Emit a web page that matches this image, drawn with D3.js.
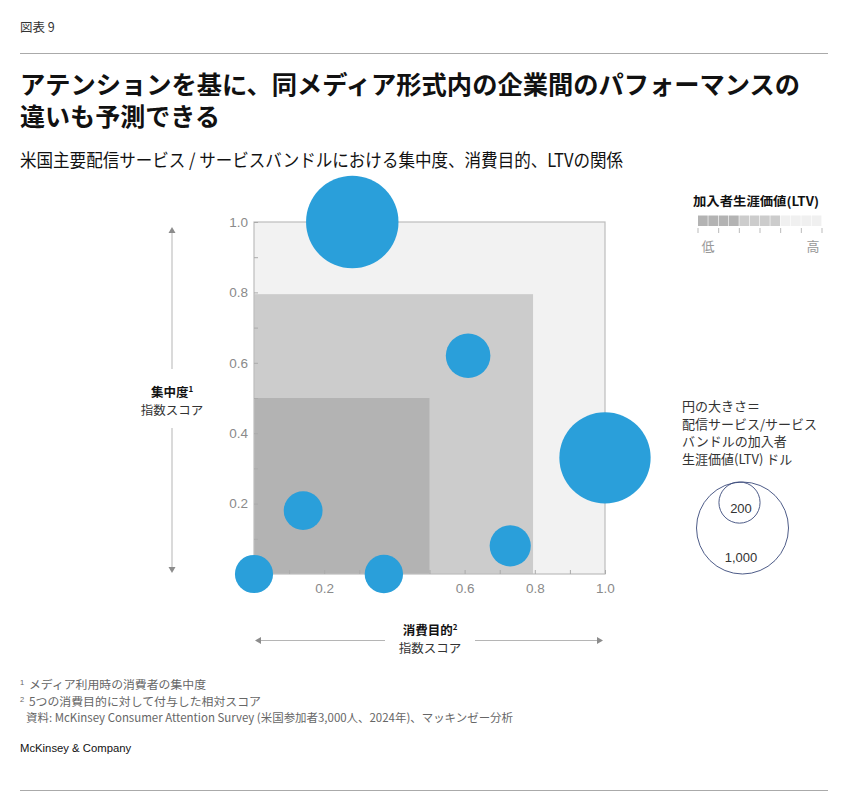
<!DOCTYPE html>
<html><head><meta charset="utf-8">
<script src="https://cdn.jsdelivr.net/npm/d3@7"></script>
<style>
body{margin:0;background:#fff;}
svg{display:block;font-family:"Liberation Sans","Noto Sans CJK JP",sans-serif;}
</style></head>
<body><svg id="c" width="843" height="808"></svg>
<script>
// ---- data ----
const purposeScore   = [0.28, 0.61, 1.00, 0.14, 0.73, 0.00, 0.37]; // x
const attentionScore = [1.00, 0.62, 0.33, 0.18, 0.08, 0.00, 0.00]; // y
const ltvUSD         = [1010, 235, 985, 178, 200, 172, 174];        // bubble size
const tickValuesAll  = [0.1,0.2,0.3,0.4,0.5,0.6,0.7,0.8,0.9,1.0];
const yLabelTicks    = [0.2,0.4,0.6,0.8,1.0];
const xLabelTicks    = [0.2,0.6,0.8,1.0];
const bandEdges      = [1.0, 0.795, 0.5];
const bandColors     = ["#f2f2f2", "#cccccc", "#b3b3b3"];
const sizeLegend     = [1000, 200];
const ltvScaleColors = ["#b3b3b3","#b3b3b3","#b3b3b3","#b3b3b3","#cccccc","#cccccc","#cccccc","#cccccc","#f0f0f0","#f0f0f0","#f0f0f0","#f0f0f0"];

const svg = d3.select("#c");
const jp = '"Noto Sans CJK JP","Liberation Sans",sans-serif';

// header
svg.append("text").attr("x",20).attr("y",32).attr("font-size",12.5).attr("fill","#333")
  .style("font-family",jp).text("図表 9");
svg.append("line").attr("x1",20).attr("x2",828).attr("y1",53.5).attr("y2",53.5).attr("stroke","#aaa");
svg.append("text").attr("x",20).attr("y",94).attr("font-size",25).attr("font-weight",700).attr("fill","#111")
  .style("font-family",jp).attr("textLength",780).attr("lengthAdjust","spacingAndGlyphs")
  .text("アテンションを基に、同メディア形式内の企業間のパフォーマンスの");
svg.append("text").attr("x",20).attr("y",126).attr("font-size",25).attr("font-weight",700).attr("fill","#111")
  .style("font-family",jp).attr("textLength",200).attr("lengthAdjust","spacingAndGlyphs")
  .text("違いも予測できる");
svg.append("text").attr("x",20).attr("y",167).attr("font-size",18).attr("fill","#111")
  .style("font-family",jp).attr("textLength",603).attr("lengthAdjust","spacingAndGlyphs")
  .text("米国主要配信サービス / サービスバンドルにおける集中度、消費目的、LTVの関係");

// scales
const x = d3.scaleLinear().domain([0,1]).range([254,605]);
const y = d3.scaleLinear().domain([0,1]).range([574,222]);
const r = d3.scaleSqrt().domain([0,1000]).range([0,46]);

// bands
const g = svg.append("g");
bandEdges.forEach((e,i)=>{
  g.append("rect").attr("x",x(0)).attr("y",y(e)).attr("width",x(e)-x(0)).attr("height",y(0)-y(e))
   .attr("fill",bandColors[i]);
});
g.append("rect").attr("x",x(0)).attr("y",y(1)).attr("width",x(1)-x(0)).attr("height",y(0)-y(1))
  .attr("fill","none").attr("stroke","#bdbdbd").attr("stroke-width",1.2);

const fmtFor = list => v => list.some(t=>Math.abs(t-v)<1e-6) ? d3.format(".1f")(v) : "";
const ya = svg.append("g").attr("transform",`translate(${x(0)},0)`)
  .call(d3.axisLeft(y).tickValues(tickValuesAll).tickSize(-4).tickPadding(6).tickFormat(fmtFor(yLabelTicks)));
const xa = svg.append("g").attr("transform",`translate(0,${y(0)})`)
  .call(d3.axisBottom(x).tickValues(tickValuesAll).tickSize(-4).tickPadding(9).tickFormat(fmtFor(xLabelTicks)));
[ya,xa].forEach(a=>{
  a.select(".domain").remove();
  a.selectAll("line").attr("stroke","#aaa");
  a.selectAll("text").attr("fill","#8a8a8a").attr("font-size",13.5).style("font-family","'Liberation Sans',sans-serif");
});

// bubbles
const data = purposeScore.map((p,i)=>({x:p,y:attentionScore[i],v:ltvUSD[i]}));
svg.append("g").selectAll("circle").data(data).join("circle")
  .attr("cx",d=>x(d.x)).attr("cy",d=>y(d.y)).attr("r",d=>r(d.v)).attr("fill","#2a9fda");

// y axis title with arrow
const arrowCol = "#b5b5b5";
function tri(pts){ svg.append("path").attr("d","M"+pts.map(p=>p.join(",")).join("L")+"Z").attr("fill","#8c8c8c"); }
svg.append("line").attr("x1",172).attr("x2",172).attr("y1",230).attr("y2",369).attr("stroke",arrowCol);
svg.append("line").attr("x1",172).attr("x2",172).attr("y1",428).attr("y2",570).attr("stroke",arrowCol);
tri([[172,227],[168.5,233],[175.5,233]]);
tri([[172,573],[168.5,567],[175.5,567]]);
const yt = svg.append("text").attr("x",172).attr("y",397).attr("text-anchor","middle").attr("font-size",12.5)
  .attr("font-weight",700).attr("fill","#111").style("font-family",jp);
yt.append("tspan").text("集中度");
yt.append("tspan").attr("font-size",8).attr("dy",-5).text("1");
svg.append("text").attr("x",172).attr("y",415).attr("text-anchor","middle").attr("font-size",12.5)
  .attr("fill","#333").style("font-family",jp).text("指数スコア");

// x axis title with arrow
svg.append("line").attr("x1",258).attr("x2",385).attr("y1",640.5).attr("y2",640.5).attr("stroke",arrowCol);
svg.append("line").attr("x1",475).attr("x2",600).attr("y1",640.5).attr("y2",640.5).attr("stroke",arrowCol);
tri([[255,640.5],[261,637],[261,644]]);
tri([[603,640.5],[597,637],[597,644]]);
const xt = svg.append("text").attr("x",430).attr("y",635).attr("text-anchor","middle").attr("font-size",12.5)
  .attr("font-weight",700).attr("fill","#111").style("font-family",jp);
xt.append("tspan").text("消費目的");
xt.append("tspan").attr("font-size",8).attr("dy",-5).text("2");
svg.append("text").attr("x",430).attr("y",653).attr("text-anchor","middle").attr("font-size",12.5)
  .attr("fill","#333").style("font-family",jp).text("指数スコア");

// LTV colour legend
svg.append("text").attr("x",756).attr("y",206).attr("text-anchor","middle").attr("font-size",12.5)
  .attr("font-weight",700).attr("fill","#111").style("font-family",jp)
  .attr("textLength",126).attr("lengthAdjust","spacingAndGlyphs").text("加入者生涯価値(LTV)");
const lx = d3.scaleLinear().domain([0,ltvScaleColors.length]).range([698,822]);
svg.append("g").selectAll("rect").data(ltvScaleColors).join("rect")
  .attr("x",(d,i)=>lx(i)).attr("y",215.5).attr("width",(d,i)=>lx(i+1)-lx(i)-0.6).attr("height",10.5)
  .attr("fill",d=>d);
svg.append("g").selectAll("line").data(d3.range(0,13,2)).join("line")
  .attr("x1",d=>lx(d)).attr("x2",d=>lx(d)).attr("y1",228).attr("y2",233).attr("stroke","#bbb");
svg.append("text").attr("x",708).attr("y",251).attr("text-anchor","middle").attr("font-size",13)
  .attr("fill","#999").style("font-family",jp).text("低");
svg.append("text").attr("x",813).attr("y",251).attr("text-anchor","middle").attr("font-size",13)
  .attr("fill","#999").style("font-family",jp).text("高");

// size legend
const sizeLines = ["円の大きさ＝","配信サービス/サービス","バンドルの加入者","生涯価値(LTV) ドル"];
svg.append("g").selectAll("text").data(sizeLines).join("text")
  .attr("x",682).attr("y",(d,i)=>411+i*17.5).attr("font-size",13).attr("fill","#333")
  .style("font-family",jp).text(d=>d);
const topY = 482;
svg.append("g").selectAll("circle").data(sizeLegend).join("circle")
  .attr("cx",(d,i)=>i===0?742.5:739.5).attr("cy",d=>topY+r(d)).attr("r",d=>r(d))
  .attr("fill","none").attr("stroke","#3a4a7a").attr("stroke-width",0.9);
svg.append("text").attr("x",741).attr("y",562).attr("text-anchor","middle").attr("font-size",13)
  .attr("fill","#333").text(d3.format(",")(sizeLegend[0]));
svg.append("text").attr("x",741).attr("y",513).attr("text-anchor","middle").attr("font-size",13)
  .attr("fill","#333").text(d3.format(",")(sizeLegend[1]));

// footnotes
const fn = [
  {sup:"1", t:"メディア利用時の消費者の集中度", y:689, w:177},
  {sup:"2", t:"5つの消費目的に対して付与した相対スコア", y:706, w:232},
  {sup:"",  t:"資料: McKinsey Consumer Attention Survey (米国参加者3,000人、2024年)、マッキンゼー分析", y:722, w:487}
];
fn.forEach(f=>{
  if(f.sup) svg.append("text").attr("x",20).attr("y",f.y-4).attr("font-size",7.5).attr("fill","#666").text(f.sup);
  svg.append("text").attr("x",f.sup?29:26).attr("y",f.y).attr("font-size",11.5).attr("fill","#666")
    .style("font-family",jp).attr("textLength",f.w).attr("lengthAdjust","spacingAndGlyphs").text(f.t);
});
svg.append("text").attr("x",20).attr("y",752).attr("font-size",11.3).attr("fill","#111").text("McKinsey & Company");
svg.append("line").attr("x1",20).attr("x2",828).attr("y1",790.5).attr("y2",790.5).attr("stroke","#aaa");
</script></body></html>
